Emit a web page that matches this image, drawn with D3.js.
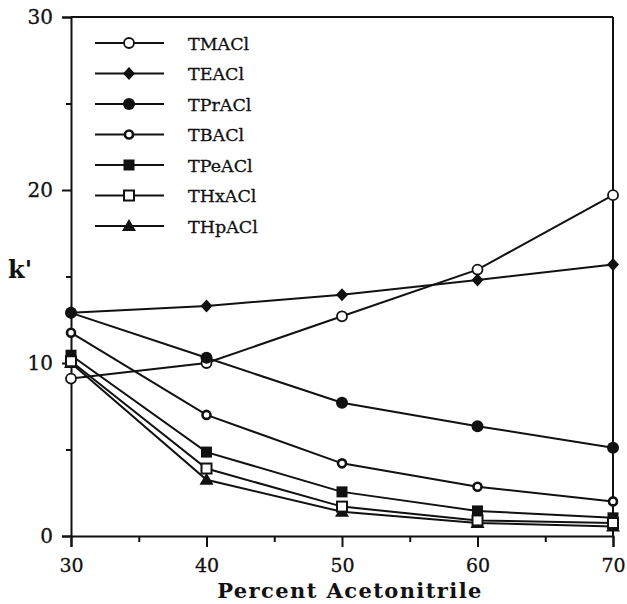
<!DOCTYPE html>
<html>
<head>
<meta charset="utf-8">
<script src="https://cdn.jsdelivr.net/npm/d3@7"></script>
<style>
  html, body { margin: 0; padding: 0; background: #fff; }
  svg { display: block; }
  text { font-family: "DejaVu Serif", "Liberation Serif", serif; fill: #111; }
</style>
</head>
<body>
<svg id="chart" width="627" height="604"></svg>
<script>
// Percent acetonitrile in the mobile phase
const percent = [30, 40, 50, 60, 70];

// Capacity factor k' for each tetraalkylammonium chloride
const TMACl  = [9.1, 10.0, 12.7, 15.4, 19.7];
const TEACl  = [12.9, 13.3, 13.95, 14.8, 15.7];
const TPrACl = [12.9, 10.3, 7.7, 6.35, 5.1];
const TBACl  = [11.75, 7.0, 4.2, 2.85, 2.0];
const TPeACl = [10.45, 4.85, 2.55, 1.45, 1.05];
const THxACl = [10.1, 3.9, 1.7, 0.9, 0.75];
const THpACl = [10.0, 3.25, 1.4, 0.75, 0.55];

const seriesNames = ["TMACl", "TEACl", "TPrACl", "TBACl", "TPeACl", "THxACl", "THpACl"];
const seriesValues = [TMACl, TEACl, TPrACl, TBACl, TPeACl, THxACl, THpACl];
const markerKinds = ["openCircle", "diamond", "dot", "smallRing", "square", "openSquare", "triangle"];
// Markers are stacked in this order (later ones sit on top)
const markerOrder = [6, 0, 1, 2, 3, 4, 5];

const xTicks = [30, 40, 50, 60, 70];
const xMinorTicks = [35, 45, 55, 65];
const yTicks = [0, 10, 20, 30];
const yMinorTicks = [5, 15, 25];

const svg = d3.select("#chart");
const ink = "#111";

const x = d3.scaleLinear().domain([30, 70]).range([71, 613]);
const y = d3.scaleLinear().domain([0, 30]).range([536, 17]);

// Frame: top and right edges
svg.append("line").attr("x1", x(30)).attr("x2", x(70)).attr("y1", y(30)).attr("y2", y(30))
  .attr("stroke", ink).attr("stroke-width", 2);
svg.append("line").attr("x1", x(70)).attr("x2", x(70)).attr("y1", y(30)).attr("y2", y(0))
  .attr("stroke", ink).attr("stroke-width", 2);

// Bottom axis
const xAxisG = svg.append("g").attr("transform", `translate(0,${y(0)})`)
  .call(d3.axisBottom(x).tickValues(xTicks).tickFormat(d3.format("d")).tickSize(11).tickPadding(12));
xAxisG.selectAll(".tick text").attr("font-size", 19);
svg.append("g").attr("transform", `translate(0,${y(0)})`)
  .call(d3.axisBottom(x).tickValues(xMinorTicks).tickFormat("").tickSize(6))
  .select(".domain").remove();

// Left axis
const yAxisG = svg.append("g").attr("transform", `translate(${x(30)},0)`)
  .call(d3.axisLeft(y).tickValues(yTicks).tickFormat(d3.format("d")).tickSize(9).tickPadding(9));
yAxisG.selectAll(".tick text").attr("font-size", 20);
svg.append("g").attr("transform", `translate(${x(30)},0)`)
  .call(d3.axisLeft(y).tickValues(yMinorTicks).tickFormat("").tickSize(5))
  .select(".domain").remove();

svg.selectAll(".domain").attr("stroke", ink).attr("stroke-width", 2);
svg.selectAll(".tick line").attr("stroke", ink).attr("stroke-width", 2);
svg.selectAll(".tick text").attr("font-family", "DejaVu Serif")
  .attr("fill", ink).attr("stroke", ink).attr("stroke-width", 0.3);

// Axis titles
svg.append("text").attr("x", 350).attr("y", 598).attr("text-anchor", "middle")
  .attr("font-size", 21).attr("font-weight", "bold").attr("letter-spacing", 1.4)
  .text("Percent Acetonitrile");
svg.append("text").attr("x", 20).attr("y", 278).attr("text-anchor", "middle")
  .attr("font-size", 24).attr("font-weight", "bold").text("k'");

// Marker drawing
function drawMarker(g, kind, cx, cy) {
  switch (kind) {
    case "openCircle":
      g.append("circle").attr("cx", cx).attr("cy", cy).attr("r", 5)
        .attr("fill", "#fff").attr("stroke", ink).attr("stroke-width", 1.8);
      break;
    case "diamond":
      g.append("path").attr("d", `M${cx},${cy - 6.5}L${cx + 6},${cy}L${cx},${cy + 6.5}L${cx - 6},${cy}Z`)
        .attr("fill", ink);
      break;
    case "dot":
      g.append("circle").attr("cx", cx).attr("cy", cy).attr("r", 6).attr("fill", ink);
      break;
    case "smallRing":
      g.append("circle").attr("cx", cx).attr("cy", cy).attr("r", 4)
        .attr("fill", "#fff").attr("stroke", ink).attr("stroke-width", 2.6);
      break;
    case "square":
      g.append("rect").attr("x", cx - 5.5).attr("y", cy - 5.5).attr("width", 11).attr("height", 11)
        .attr("fill", ink);
      break;
    case "openSquare":
      g.append("rect").attr("x", cx - 5).attr("y", cy - 5).attr("width", 10).attr("height", 10)
        .attr("fill", "#fff").attr("stroke", ink).attr("stroke-width", 2);
      break;
    case "triangle":
      g.append("path").attr("d", `M${cx},${cy - 7}L${cx + 7},${cy + 5}L${cx - 7},${cy + 5}Z`)
        .attr("fill", ink);
      break;
  }
}

const line = d3.line().x((d, i) => x(percent[i])).y(d => y(d));

// Series lines first, then markers on top
const plot = svg.append("g");
seriesValues.forEach(vals => {
  plot.append("path").datum(vals).attr("d", line)
    .attr("fill", "none").attr("stroke", ink).attr("stroke-width", 2);
});
const marks = svg.append("g");
markerOrder.forEach(s => {
  seriesValues[s].forEach((v, i) => drawMarker(marks, markerKinds[s], x(percent[i]), y(v)));
});

// Legend
const legend = svg.append("g");
const legendTop = 43, legendStep = 30.5;
seriesNames.forEach((name, s) => {
  const ly = legendTop + s * legendStep;
  legend.append("line").attr("x1", 95).attr("x2", 164).attr("y1", ly).attr("y2", ly)
    .attr("stroke", ink).attr("stroke-width", 2.2);
  drawMarker(legend, markerKinds[s], 129, ly);
  legend.append("text").attr("x", 188).attr("y", ly + 6.5).attr("font-size", 17.5)
    .attr("stroke", ink).attr("stroke-width", 0.3).text(name);
});
</script>
</body>
</html>
